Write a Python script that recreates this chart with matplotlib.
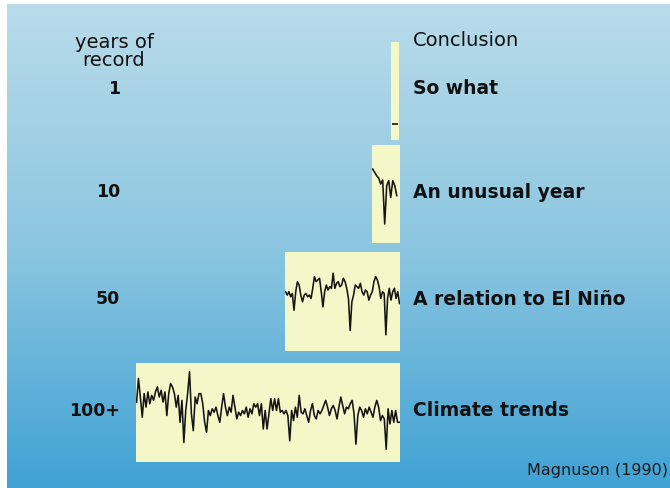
import numpy as np
import matplotlib
matplotlib.use('Agg')
import matplotlib.pyplot as plt
from matplotlib.colors import LinearSegmentedColormap

# record lengths and conclusions
years = ['1', '10', '50', '100+']
conclusions = ['So what', 'An unusual year', 'A relation to El Niño', 'Climate trends']

# anomaly values (arbitrary units, + = up)
record_1 = [-99]
record_10 = [75, 65, 55, 48, 30, 42, -90, 25, 40, -10, 40, 25, -5]
record_50 = [29, 19, 29, 14, 24, -26, 29, 59, 49, 19, -1, 19, 24, 14, 19, 9, 39, 74,
             59, 64, 69, 29, -16, 29, 49, 34, 44, 39, 84, 39, 54, 59, 44, 49, 69, 59,
             39, 9, -86, -1, 19, 49, 44, 39, 54, 29, 19, 34, 29, 4, 19, 29, 59, 74,
             64, 44, 9, 29, 24, -99, 9, 39, 4, 29, 39, 9, 29, -6]
record_100 = [31, 101, 46, -14, 56, 16, 61, 26, 51, 36, 61, 76, 46, 66, 31, 61, -9, 56,
              86, 76, 56, 16, 51, -29, 36, -89, 6, 56, 121, -4, -54, 46, 26, 56, 56, 26,
              -29, -59, 6, -9, 11, 1, 16, -9, -29, 16, 56, 16, -9, 16, 1, 51, 16, -19,
              1, -9, 6, -4, 16, -14, 11, -4, 26, 16, 26, -9, 26, -49, 6, -49, -4, 41,
              6, 41, 6, 41, 1, 6, -4, 6, -9, -84, 6, -24, 16, -14, 51, 1, -4, 11, -9,
              -29, 6, 26, -9, -19, 6, -4, 6, 21, 36, 16, -9, 11, 21, 6, -19, 16, 46,
              21, -4, 16, 11, 26, 36, -4, -94, -9, 16, 6, -14, 11, -4, 16, 1, -14, 16,
              36, 16, -24, -9, -19, -109, 11, -34, 6, -29, 6, -29, -29]

W, H = 670, 488
fig = plt.figure(figsize=(W / 100, H / 100), dpi=100)
fig.patch.set_facecolor('white')

# blue gradient background
bg = fig.add_axes([7 / W, 0, (W - 7) / W, 484 / H])
cmap = LinearSegmentedColormap.from_list('bg', ['#b9dcea', '#8cc6e0', '#40a2d4'])
bg.imshow(np.linspace(0, 1, 256).reshape(-1, 1), cmap=cmap, aspect='auto',
          extent=[0, 1, 1, 0])
bg.axis('off')


def box_axes(x0, x1, top, bottom):
    ax = fig.add_axes([x0 / W, 1 - bottom / H, (x1 - x0) / W, (bottom - top) / H])
    ax.set_facecolor('#f4f8c8')
    for s in ax.spines.values():
        s.set_visible(False)
    ax.set_xticks([])
    ax.set_yticks([])
    ax.set_ylim(-147, 147)
    return ax


boxes = [(391, 399, 42, 140), (372, 400, 145, 243), (285, 400, 252, 351), (136, 400, 363, 462)]
records = [record_1, record_10, record_50, record_100]
line_col = '#151515'

for (x0, x1, top, bottom), rec, yr, txt in zip(boxes, records, years, conclusions):
    ax = box_axes(x0, x1, top, bottom)
    n = len(rec)
    if n == 1:
        ax.plot([0], rec, marker='_', ms=4, mew=1.2, color=line_col)
        ax.set_xlim(-1, 1)
    else:
        ax.plot(np.arange(n), rec, color=line_col, lw=1.15)
        if n < 20:
            ax.set_xlim(-0.3, n + 0.6)
        else:
            ax.set_xlim(-0.3, n - 0.7)
    mid = (top + bottom) / 2 - 2
    fig.text(120 / W, 1 - mid / H, yr, ha='right', va='center',
             fontsize=12.5, fontweight='bold', color='#111111')
    fig.text(413 / W, 1 - mid / H, txt, ha='left', va='center',
             fontsize=13.5, fontweight='bold', color='#111111')

fig.text(114 / W, 1 - 42 / H, 'years of', ha='center', va='center', fontsize=14, color='#111111')
fig.text(114 / W, 1 - 61 / H, 'record', ha='center', va='center', fontsize=14, color='#111111')
fig.text(413 / W, 1 - 41 / H, 'Conclusion', ha='left', va='center', fontsize=14, color='#111111')
fig.text(527 / W, 1 - 470 / H, 'Magnuson (1990)', ha='left', va='center', fontsize=11.5,
         color='#1a1a1a')

fig.savefig('out.png', dpi=100)
